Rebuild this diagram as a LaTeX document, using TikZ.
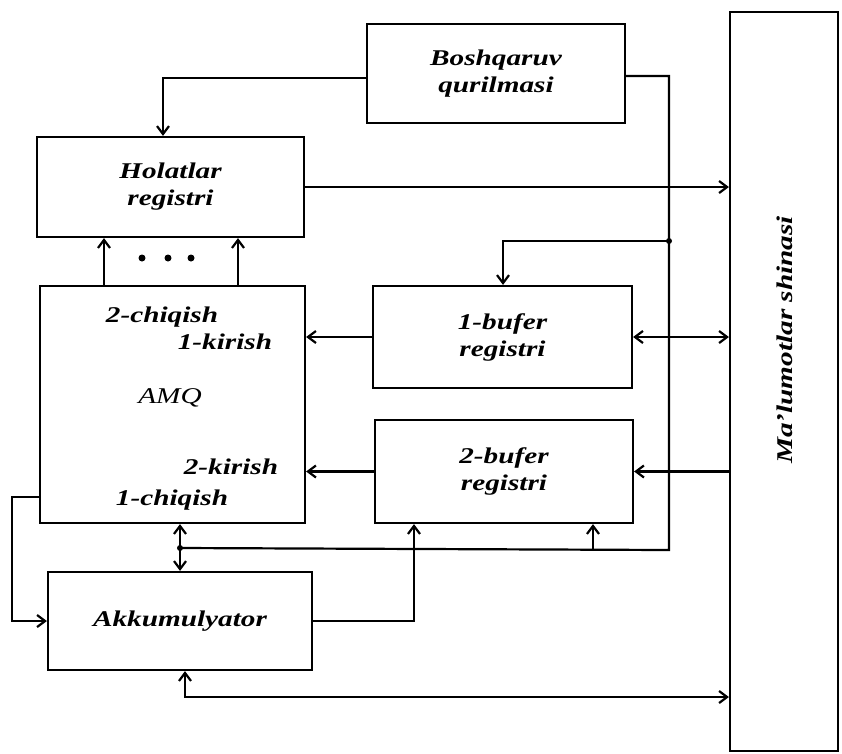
\documentclass[tikz,border=0pt]{standalone}
\usepackage{fontspec}
\setmainfont{Liberation Serif}[FakeStretch=1.3]
\usetikzlibrary{arrows.meta}
\begin{document}
\begin{tikzpicture}[x=1pt,y=-1pt,
  line width=2.2pt,
  box/.style={draw,rectangle,inner sep=0pt,align=center,
    font=\fontsize{22.5}{27}\selectfont\bfseries\itshape},
  lbl/.style={inner sep=0pt,font=\fontsize{22.5}{27}\selectfont\bfseries\itshape},
  arr/.style={-{Straight Barb[length=8pt,width=12pt,line width=2.2pt]}},
  arrb/.style={{Straight Barb[length=8pt,width=12pt,line width=2.2pt]}-{Straight Barb[length=8pt,width=12pt,line width=2.2pt]}},
  jdot/.style={circle,fill,inner sep=0pt,minimum size=6pt}]
\useasboundingbox (0,0) rectangle (842,753);
% boxes
\node[box,minimum width=258pt,minimum height=99pt] (bq) at (496,73.5) {Boshqaruv\\qurilmasi};
\node[box,minimum width=267pt,minimum height=100pt] (hol) at (170.5,187) {Holatlar\\registri};
\node[box,minimum width=265pt,minimum height=237pt] (amq) at (172.5,404.5) {};
\node[box,minimum width=259pt,minimum height=102pt] (buf1) at (502.5,337) {1-bufer\\registri};
\node[box,minimum width=258pt,minimum height=103pt] (buf2) at (504,471.5) {2-bufer\\registri};
\node[box,minimum width=264pt,minimum height=98pt] (akk) at (180,621) {Akkumulyator};
\node[box,minimum width=108pt,minimum height=739pt] (bus) at (784,381.5) {};
\node[lbl,rotate=90] (busl) at (785,340) {Ma'lumotlar shinasi};
% AMQ labels
\node[lbl] (l2c) at (162,317) {2-chiqish};
\node[lbl] (l1k) at (225,342) {1-kirish};
\node[inner sep=0pt,font=\fontsize{22.5}{27}\selectfont\itshape] (lamq) at (170,398) {AMQ};
\node[lbl] (l2k) at (231,467) {2-kirish};
\node[lbl] (l1c) at (172,500) {1-chiqish};
% dots between AMQ and Holatlar
\node[jdot,minimum size=7pt] (d1) at (142,258) {};
\node[jdot,minimum size=7pt] (d2) at (168,258) {};
\node[jdot,minimum size=7pt] (d3) at (191,258) {};
% coordinates
\coordinate (c1) at (163,78);
\coordinate (k) at (669,76);
\coordinate (j1) at (669,241);
\coordinate (kb) at (669,550);
\coordinate (ja) at (180,548);
\coordinate (jb) at (593,550);
\coordinate (b1t) at (503,241);
\coordinate (u1) at (104,0);
\coordinate (u2) at (238,0);
\coordinate (a2) at (414,619);
\coordinate (l1) at (12,497);
\coordinate (b0) at (185,697);
% connectors
\draw[arr] (c1 -| bq.west) -- (c1) -- (c1 |- hol.north);
\draw (k -| bq.east) -- (k) -- (kb) -- (ja);
\draw[arr] (j1) -- (b1t) -- (b1t |- buf1.north);
\draw[arr] (jb) -- (jb |- buf2.south);
\draw[arrb] (ja |- amq.south) -- (ja |- akk.north);
\node[jdot] at (j1) {};
\node[jdot] at (ja) {};
\draw[arr] (hol.east) -- (hol.east -| bus.west);
\draw[arr] (u1 |- amq.north) -- (u1 |- hol.south);
\draw[arr] (u2 |- amq.north) -- (u2 |- hol.south);
\draw[arr] (buf1.west) -- (buf1.west -| amq.east);
\draw[arrb] (buf1.east) -- (buf1.east -| bus.west);
\draw[arr] (buf2.east -| bus.west) -- (buf2.east);
\draw[arr] (buf2.west) -- (buf2.west -| amq.east);
\draw[arr] (akk.east) -| (a2 |- buf2.south);
\draw[arr] (l1 -| amq.west) -- (l1) |- (akk.west);
\draw[arrb] (b0 |- akk.south) -- (b0) -- (b0 -| bus.west);
\end{tikzpicture}
\end{document}
